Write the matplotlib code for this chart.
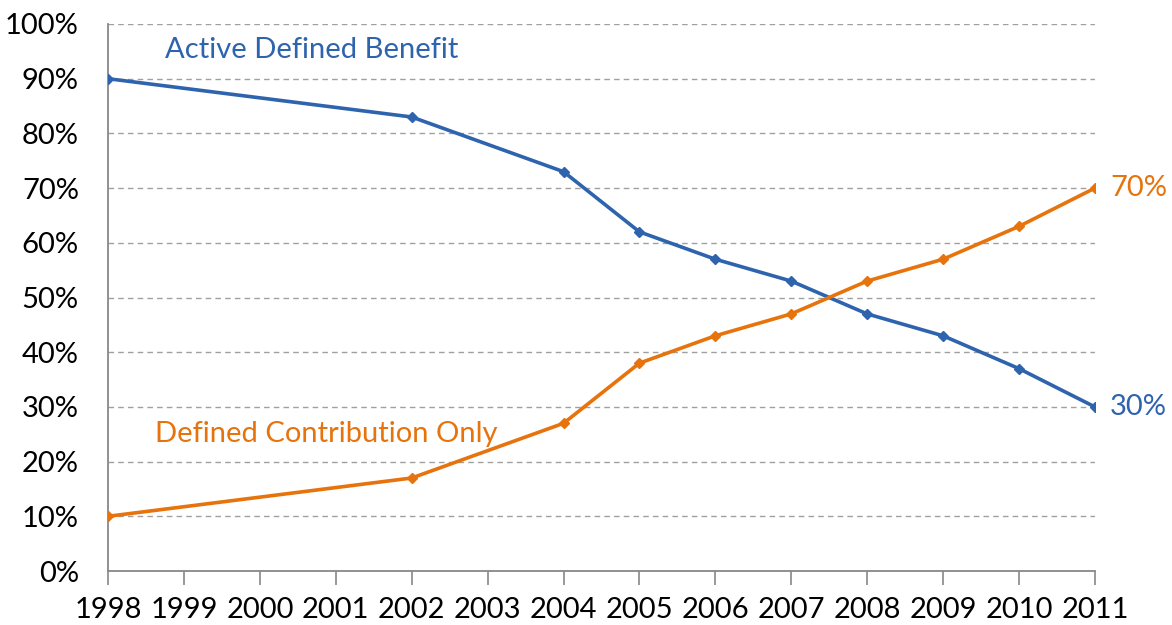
import matplotlib
matplotlib.use("Agg")
import matplotlib.pyplot as plt
from matplotlib.ticker import FuncFormatter

years = [1998, 2002, 2004, 2005, 2006, 2007, 2008, 2009, 2010, 2011]
active_db = [90, 83, 73, 62, 57, 53, 47, 43, 37, 30]
dc_only = [10, 17, 27, 38, 43, 47, 53, 57, 63, 70]
tick_years = list(range(1998, 2012))

blue = "#2E63AE"
orange = "#E6730C"

plt.rcParams['font.family'] = ['Lato', 'DejaVu Sans']

fig = plt.figure(figsize=(11.72, 6.25), dpi=100)
ax = fig.add_axes([0.0922, 0.0864, 0.8420, 0.8752])

ax.plot(years, active_db, color=blue, lw=2.6, marker='D', ms=5.5, zorder=3)
ax.plot(years, dc_only, color=orange, lw=2.6, marker='D', ms=5.5, zorder=3)

ax.set_xlim(1998, 2011)
ax.set_ylim(0, 100)
ax.set_yticks(range(0, 101, 10))
ax.yaxis.set_major_formatter(FuncFormatter(lambda v, p: f"{int(v)}%"))
ax.set_xticks(tick_years)
ax.set_xticklabels([str(y) for y in tick_years])

ax.grid(axis='y', color='#A0A0A0', linestyle=(0, (4, 3)), lw=1.0)
ax.set_axisbelow(True)
for s in ['top', 'right']:
    ax.spines[s].set_visible(False)
for s in ['left', 'bottom']:
    ax.spines[s].set_color('#888888')
    ax.spines[s].set_linewidth(1.3)

ax.tick_params(axis='y', length=0, labelsize=21, pad=21, colors='black')
ax.tick_params(axis='x', length=10, width=1.2, color='#888888', labelsize=21, pad=9, direction='out')
for lbl in ax.get_xticklabels() + ax.get_yticklabels():
    lbl.set_color('black')

ax.text(1998.75, 95.3, "Active Defined Benefit", color=blue, fontsize=21, va='center', ha='left')
ax.text(1998.62, 25.0, "Defined Contribution Only", color=orange, fontsize=21, va='center', ha='left')
ax.text(2011.2, 70, "70%", color=orange, fontsize=21, va='center', ha='left', clip_on=False)
ax.text(2011.2, 30, "30%", color=blue, fontsize=21, va='center', ha='left', clip_on=False)

fig.savefig("out.png", dpi=100)
